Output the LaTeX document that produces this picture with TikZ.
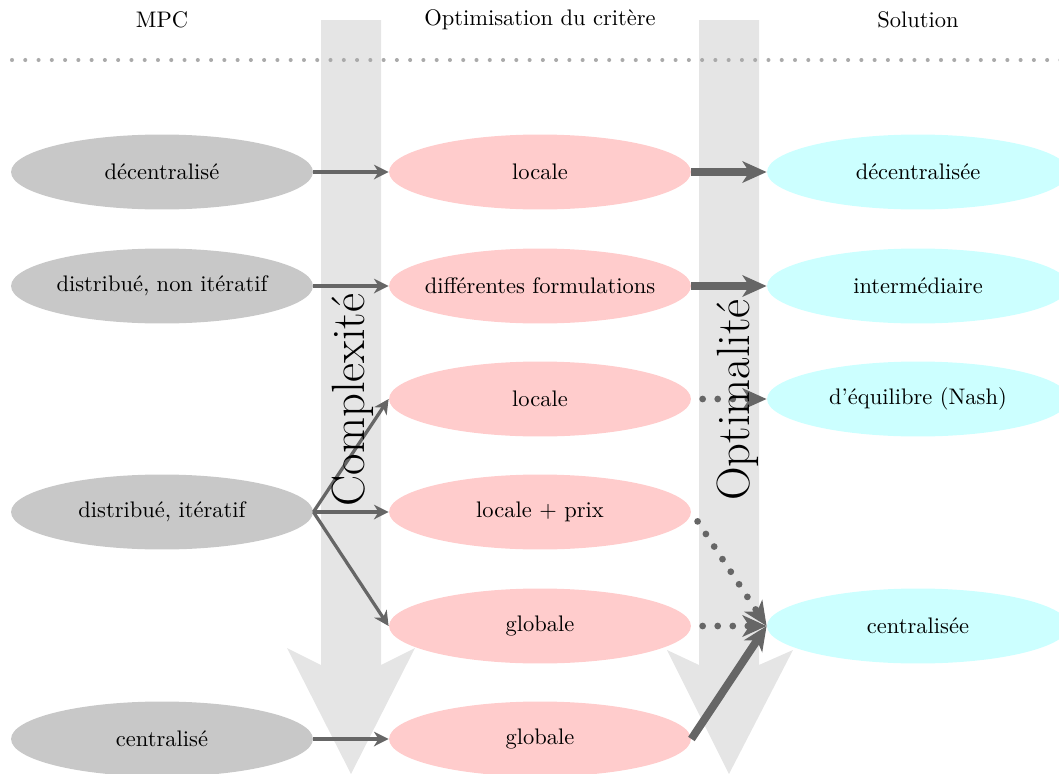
\documentclass[tikz,border=0pt]{standalone}
\usetikzlibrary{shapes.geometric,arrows.meta}
\definecolor{lgray}{RGB}{200,200,200}
\definecolor{lpink}{RGB}{255,204,204}
\definecolor{lcyan}{RGB}{204,255,255}
\definecolor{bgray}{RGB}{229,229,229}
\definecolor{agray}{RGB}{102,102,102}
\definecolor{dgray}{RGB}{170,170,170}
\begin{document}
\begin{tikzpicture}[x=0.01562cm,y=-0.01562cm,
  ell/.style={ellipse,minimum width=4.717cm,minimum height=1.1715cm,inner xsep=-6pt,inner ysep=0pt,font=\normalsize},
  mpcnode/.style={ell,fill=lgray},
  critnode/.style={ell,fill=lpink},
  solnode/.style={ell,fill=lcyan},
  thinarrow/.style={draw=agray,line width=1.45pt,-{Stealth[length=6.5pt,width=6.5pt,inset=2pt]}},
  thickarrow/.style={draw=agray,line width=3.5pt,-{Stealth[length=10.7pt,width=9.5pt,inset=3pt]}},
  dotarrow/.style={draw=agray,line width=3pt,dash pattern=on 0pt off 6.7pt,line cap=round,shorten <=5pt,-{Stealth[length=10.7pt,width=9.5pt,inset=3pt,line cap=butt]}},
  bigarrow/.style={fill=bgray,draw=none},
  header/.style={font=\normalsize,inner sep=0pt},
  bigtext/.style={font=\huge,rotate=90,anchor=base,inner sep=0pt}]
\useasboundingbox (0,0) rectangle (1059,774);
% big background arrows
\fill[bigarrow] (321,20) -- (381,20) -- (381,665) -- (415,648) -- (351,774) -- (287,648) -- (321,665) -- cycle;
\fill[bigarrow] (699,20) -- (759,20) -- (759,665) -- (793,650) -- (729,774) -- (667,650) -- (699,665) -- cycle;
% headers
\node[header] (hmpc) at (162,20) {MPC};
\node[header] (hcrit) at (540,20) {Optimisation du critère};
\node[header] (hsol) at (918,20) {Solution};
\coordinate (dlA) at (12,60);
\coordinate (dlB) at (1065,60);
\draw[dgray,line width=1.8pt,dash pattern=on 0pt off 5.9pt,line cap=round] (dlA) -- (dlB);
% left column
\node[mpcnode] (l1) at (162,172) {décentralisé};
\node[mpcnode] (l2) at (162,286) {distribué, non itératif};
\node[mpcnode] (l3) at (162,512) {distribué, itératif};
\node[mpcnode] (l4) at (162,739) {centralisé};
% middle column
\node[critnode] (m1) at (540,172) {locale};
\node[critnode] (m2) at (540,286) {différentes formulations};
\node[critnode] (m3) at (540,399) {locale};
\node[critnode] (m4) at (540,512) {locale + prix};
\node[critnode] (m5) at (540,626) {globale};
\node[critnode] (m6) at (540,739) {globale};
% right column
\node[solnode] (r1) at (918,172) {décentralisée};
\node[solnode] (r2) at (918,286) {intermédiaire};
\node[solnode] (r3) at (918,399) {d'équilibre (Nash)};
\node[solnode] (r4) at (918,626) {centralisée};
% connectors
\draw[thinarrow] (l1.east) -- (m1.west);
\draw[thinarrow] (l2.east) -- (m2.west);
\draw[thinarrow] (l3.east) -- (m3.west);
\draw[thinarrow] (l3.east) -- (m4.west);
\draw[thinarrow] (l3.east) -- (m5.west);
\draw[thinarrow] (l4.east) -- (m6.west);
\draw[thickarrow] (m1.east) -- (r1.west);
\draw[thickarrow] (m2.east) -- (r2.west);
\draw[dotarrow] (m3.east) -- (r3.west);
\draw[dotarrow] (m4.east) -- (r4.west);
\draw[dotarrow] (m5.east) -- (r4.west);
\draw[thickarrow] (m6.east) -- (r4.west);
% labels on big arrows
\node[bigtext] (tcomp) at (364,400) {Complexité};
\node[bigtext] (topt) at (749,400) {Optimalité};
\end{tikzpicture}
\end{document}
